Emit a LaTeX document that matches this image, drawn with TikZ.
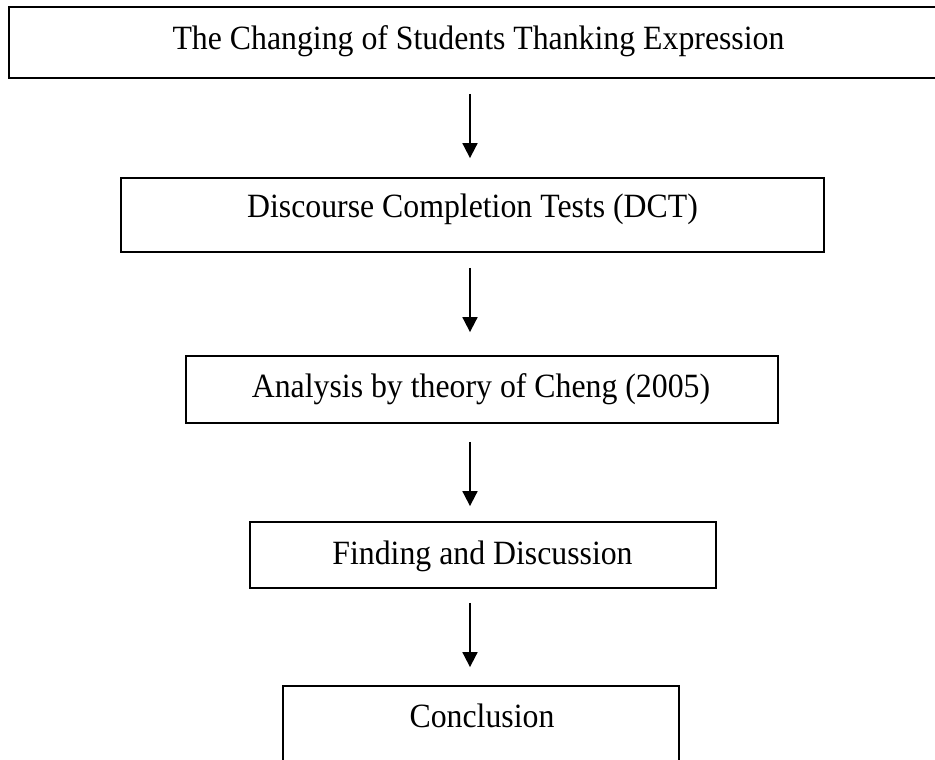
\documentclass[tikz,border=0pt]{standalone}
\usepackage{fontspec}
\setmainfont{Liberation Serif}[FakeStretch=0.935]
\usepackage{tikz}
\usetikzlibrary{arrows.meta}

\begin{document}
\begin{tikzpicture} [x=1pt,y=-1pt,
    box/.style={draw,line width=1.8pt,inner sep=0pt},
    txt/.style={anchor=base,inner sep=0pt,font=\fontsize{34}{40}\selectfont},
    flow/.style={line width=1.8pt,-{Triangle[length=15pt,width=15pt]}}]
    \useasboundingbox (0,0) rectangle (935,760); % page
    \coordinate (axis) at (470,0); % line of the arrows
                      % boxes
    \node[box,minimum width=931pt,minimum height=71pt] (changing) at (474.5,42.5) {};
    \node[box,minimum width=703pt,minimum height=74pt] (dct) at (472.5,215) {};
    \node[box,minimum width=592pt,minimum height=67pt] (analysis) at (482,389.5) {};
    \node[box,minimum width=466pt,minimum height=66pt] (finding) at (483,555) {};
    \node[box,minimum width=396pt,minimum height=79pt] (conclusion) at (481,725.5) {};
                      % texts
    \node[txt] (changingtext) at (478.5,50) {The Changing of Students Thanking Expression};
    \node[txt] (dcttext) at (472.5,217) {Discourse Completion Tests (DCT)};
    \node[txt] (analysistext) at (481,397) {Analysis by theory of Cheng (2005)};
    \node[txt] (findingtext) at (482.5,564) {Finding and Discussion};
    \node[txt] (conclusiontext) at (482,727) {Conclusion};
                      % arrows
    \draw [flow,shorten <=15pt,shorten >=19pt] (changing.south -| axis) -- (dct.north -| axis);
    \draw [flow,shorten <=15pt,shorten >=23pt] (dct.south -| axis) -- (analysis.north -| axis);
    \draw [flow,shorten <=18pt,shorten >=15pt] (analysis.south -| axis) -- (finding.north -| axis);
    \draw [flow,shorten <=14pt,shorten >=18pt] (finding.south -| axis) -- (conclusion.north -| axis);
\end{tikzpicture}
\end{document}
